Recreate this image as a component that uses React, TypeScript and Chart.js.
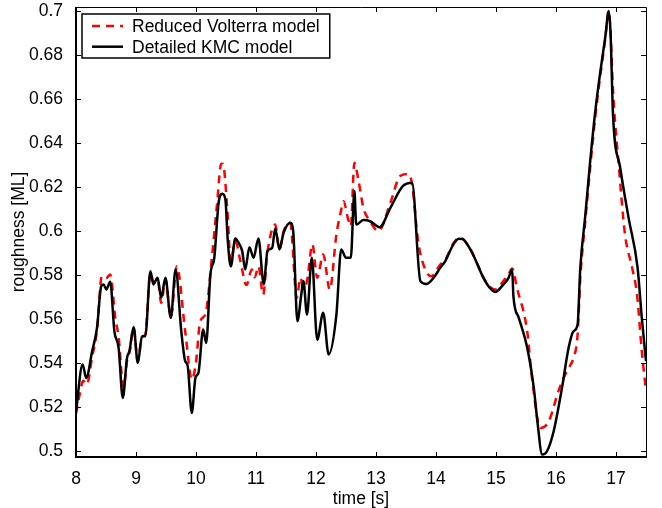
import React, { useEffect, useRef } from 'react';
import { Chart, registerables } from 'chart.js';

Chart.register(...registerables);

// ---- data ----
const timeVolterra = [
  8.0, 8.07, 8.12, 8.18, 8.27, 8.35, 8.43, 8.5, 8.57, 8.655, 8.71, 8.79, 8.85, 8.9, 8.96,
  9.03, 9.1, 9.155, 9.24, 9.29, 9.36, 9.42, 9.49, 9.58, 9.68, 9.82, 9.93, 10.0, 10.07,
  10.155, 10.27, 10.35, 10.42, 10.45, 10.52, 10.58, 10.655, 10.74, 10.84, 10.93, 10.98,
  11.04, 11.12, 11.19, 11.32, 11.39, 11.46, 11.57, 11.68, 11.74, 11.79, 11.85, 11.94,
  12.02, 12.12, 12.23, 12.34, 12.41, 12.46, 12.53, 12.58, 12.64, 12.71, 12.79, 12.9,
  13.04, 13.24, 13.4, 13.52, 13.58, 13.71, 13.82, 13.92, 14.07, 14.155, 14.29, 14.38,
  14.44, 14.52, 14.63, 14.79, 14.905, 14.99, 15.1, 15.21, 15.27, 15.35, 15.52, 15.6,
  15.74, 15.88, 16.04, 16.18, 16.29, 16.36, 16.405, 16.49, 16.57, 16.655, 16.74, 16.82,
  16.88, 16.96, 17.04, 17.15, 17.27, 17.35, 17.43, 17.5,
];
const roughVolterra = [
  0.517, 0.527, 0.532, 0.5303, 0.543, 0.555, 0.5795, 0.5785, 0.5803, 0.5606, 0.552, 0.5288,
  0.541, 0.546, 0.556, 0.541, 0.552, 0.553, 0.581, 0.577, 0.578, 0.5674, 0.578, 0.561, 0.584,
  0.5545, 0.5326, 0.5405, 0.5591, 0.5621, 0.5894, 0.6121, 0.6306, 0.6305, 0.6106, 0.5864,
  0.5955, 0.5864, 0.5755, 0.5826, 0.579, 0.584, 0.5712, 0.5902, 0.603, 0.5917, 0.6, 0.6038,
  0.5697, 0.5788, 0.5742, 0.5773, 0.594, 0.5788, 0.5894, 0.5735, 0.5985, 0.6083, 0.6136,
  0.606, 0.6023, 0.6311, 0.6227, 0.6106, 0.6045, 0.6, 0.6129, 0.625, 0.626, 0.6242, 0.594,
  0.5826, 0.5795, 0.5848, 0.587, 0.5945, 0.5968, 0.5966, 0.5942, 0.5888, 0.579, 0.5745,
  0.5735, 0.5765, 0.5805, 0.583, 0.5742, 0.5545, 0.5333, 0.5106, 0.5136, 0.5273, 0.5364,
  0.5424, 0.553, 0.5788, 0.605, 0.629, 0.652, 0.671, 0.687, 0.7, 0.659, 0.6318, 0.5985,
  0.5833, 0.5712, 0.5455, 0.5273,
];

const timeKMC = [
  8.0, 8.11, 8.17, 8.27, 8.35, 8.42, 8.46, 8.505, 8.57, 8.64, 8.71, 8.78, 8.85, 8.89, 8.96,
  9.03, 9.1, 9.155, 9.24, 9.29, 9.36, 9.42, 9.49, 9.58, 9.66, 9.755, 9.82, 9.86, 9.93, 9.99,
  10.04, 10.12, 10.17, 10.24, 10.305, 10.38, 10.44, 10.49, 10.53, 10.58, 10.655, 10.71,
  10.77, 10.82, 10.89, 10.96, 11.04, 11.13, 11.19, 11.27, 11.32, 11.39, 11.46, 11.57,
  11.62, 11.69, 11.755, 11.79, 11.85, 11.93, 12.02, 12.12, 12.21, 12.34, 12.42, 12.5,
  12.58, 12.64, 12.67, 12.79, 12.9, 13.06, 13.24, 13.45, 13.6, 13.74, 13.84, 13.96, 14.07,
  14.155, 14.29, 14.38, 14.44, 14.52, 14.63, 14.79, 14.905, 14.99, 15.1, 15.21, 15.27,
  15.29, 15.38, 15.52, 15.63, 15.69, 15.77, 15.85, 15.96, 16.1, 16.21, 16.29, 16.36,
  16.405, 16.49, 16.57, 16.655, 16.74, 16.82, 16.88, 16.91, 16.95, 17.07, 17.21, 17.36,
  17.43, 17.5,
];
const roughKMC = [
  0.518, 0.5394, 0.5333, 0.5455, 0.556, 0.575, 0.5758, 0.5735, 0.577, 0.5545, 0.547, 0.5242,
  0.5424, 0.5455, 0.5564, 0.5401, 0.5523, 0.5523, 0.5818, 0.5758, 0.5788, 0.5697, 0.5788,
  0.5606, 0.5826, 0.5545, 0.5409, 0.539, 0.5174, 0.5333, 0.5356, 0.5553, 0.5492, 0.5803,
  0.5879, 0.6136, 0.617, 0.6144, 0.5955, 0.584, 0.5967, 0.5947, 0.5909, 0.5826, 0.5927,
  0.5879, 0.5967, 0.5758, 0.5909, 0.5924, 0.6012, 0.5917, 0.5992, 0.6038, 0.6, 0.5591,
  0.5712, 0.5773, 0.5621, 0.5879, 0.5507, 0.5629, 0.544, 0.5621, 0.5917, 0.5879, 0.5879,
  0.6182, 0.603, 0.605, 0.6045, 0.6018, 0.6106, 0.6205, 0.622, 0.5773, 0.576, 0.5788,
  0.5833, 0.5864, 0.594, 0.5965, 0.5964, 0.594, 0.5886, 0.5788, 0.574, 0.5724, 0.575,
  0.5788, 0.5826, 0.5705, 0.5606, 0.547, 0.5288, 0.5136, 0.4985, 0.5, 0.509, 0.5288, 0.547,
  0.5545, 0.5576, 0.5833, 0.6076, 0.6318, 0.6545, 0.6727, 0.6879, 0.7, 0.6894, 0.653,
  0.6288, 0.606, 0.5833, 0.5606, 0.5409,
];

const seriesLabels = ['Reduced Volterra model', 'Detailed KMC model'];
const xTickValues = [8, 9, 10, 11, 12, 13, 14, 15, 16, 17];
const yTickValues = [0.5, 0.52, 0.54, 0.56, 0.58, 0.6, 0.62, 0.64, 0.66, 0.68, 0.7];
const xTitle = 'time [s]';
const yTitle = 'roughness [ML]';

const FONT_FAMILY = '"Liberation Sans", Arial, Helvetica, sans-serif';
const FONT_SIZE = 17.5;

const framePlugin = {
  id: 'matlabFrame',
  afterDatasetsDraw(chart: any) {
    const { ctx, chartArea: a, scales } = chart;
    ctx.save();
    ctx.strokeStyle = '#000';
    // box
    ctx.lineWidth = 1;
    ctx.beginPath();
    ctx.moveTo(a.left, a.top + 0.5);
    ctx.lineTo(a.right + 0.5, a.top + 0.5);
    ctx.lineTo(a.right + 0.5, a.bottom);
    ctx.stroke();
    ctx.lineWidth = 2;
    ctx.beginPath();
    ctx.moveTo(a.left, a.top);
    ctx.lineTo(a.left, a.bottom);
    ctx.lineTo(a.right + 1, a.bottom);
    ctx.stroke();
    // inward ticks
    const tl = 5;
    ctx.lineWidth = 1;
    ctx.beginPath();
    xTickValues.forEach((v) => {
      const px = Math.round(scales.x.getPixelForValue(v)) + 0.5;
      ctx.moveTo(px, a.bottom);
      ctx.lineTo(px, a.bottom - tl);
      ctx.moveTo(px, a.top);
      ctx.lineTo(px, a.top + tl);
    });
    yTickValues.forEach((v) => {
      const py = Math.round(scales.y.getPixelForValue(v)) + 0.5;
      ctx.moveTo(a.left, py);
      ctx.lineTo(a.left + tl, py);
      ctx.moveTo(a.right, py);
      ctx.lineTo(a.right - tl, py);
    });
    ctx.stroke();

    // legend
    const ds = chart.data.datasets;
    ctx.font = `${FONT_SIZE}px ${FONT_FAMILY}`;
    const maxW = Math.max(...ds.map((d: any) => ctx.measureText(d.label).width));
    const bx = a.left + 6;
    const by = a.top + 7;
    const bw = 50 + maxW + 10;
    const bh = 44;
    ctx.fillStyle = '#fff';
    ctx.fillRect(bx, by, bw, bh);
    ctx.lineWidth = 1.5;
    ctx.strokeStyle = '#000';
    ctx.strokeRect(bx, by, bw, bh);
    ds.forEach((d: any, i: number) => {
      const cy = by + 12 + i * 20.7;
      ctx.save();
      ctx.strokeStyle = d.borderColor;
      ctx.lineWidth = d.borderWidth;
      ctx.setLineDash(d.borderDash || []);
      ctx.beginPath();
      ctx.moveTo(bx + 10, cy);
      ctx.lineTo(bx + 41, cy);
      ctx.stroke();
      ctx.restore();
      ctx.fillStyle = '#000';
      ctx.textBaseline = 'middle';
      ctx.textAlign = 'left';
      ctx.fillText(d.label, bx + 50, cy + 1);
    });
    ctx.restore();
  },
};

export default function App() {
  const canvasRef = useRef<HTMLCanvasElement | null>(null);

  useEffect(() => {
    if (!canvasRef.current) return;
    const font = { family: FONT_FAMILY, size: FONT_SIZE };
    const chart = new Chart(canvasRef.current, {
      type: 'line',
      data: {
        datasets: [
          {
            label: seriesLabels[0],
            data: timeVolterra.map((t, i) => ({ x: t, y: roughVolterra[i] })),
            borderColor: '#ff0000',
            borderWidth: 2.5,
            borderDash: [8, 6],
            pointRadius: 0,
            fill: false,
            cubicInterpolationMode: 'monotone',
            order: 1,
          },
          {
            label: seriesLabels[1],
            data: timeKMC.map((t, i) => ({ x: t, y: roughKMC[i] })),
            borderColor: '#000000',
            borderWidth: 2.5,
            pointRadius: 0,
            fill: false,
            cubicInterpolationMode: 'monotone',
            order: 0,
          },
        ],
      },
      options: {
        animation: false,
        responsive: false,
        events: [],
        layout: { padding: { top: 7, right: 16, bottom: 0, left: 0 } },
        plugins: {
          legend: { display: false },
          tooltip: { enabled: false },
        },
        scales: {
          x: {
            type: 'linear',
            min: 8,
            max: 17.5,
            grid: { display: false },
            border: { display: false },
            afterBuildTicks: (s: any) => {
              s.ticks = xTickValues.map((v) => ({ value: v }));
            },
            afterFit: (s: any) => {
              s.height = 51;
              s.paddingLeft = 0;
              s.paddingRight = 0;
            },
            ticks: {
              font,
              color: '#000',
              padding: 4,
              maxRotation: 0,
              autoSkip: false,
              callback: (v: any) => String(v),
            },
            title: {
              display: true,
              text: xTitle,
              font: { ...font, lineHeight: 1 },
              color: '#000',
              padding: { top: 0, bottom: 0 },
            },
          },
          y: {
            type: 'linear',
            min: 0.4974,
            max: 0.7018,
            grid: { display: false },
            border: { display: false },
            afterBuildTicks: (s: any) => {
              s.ticks = yTickValues.map((v) => ({ value: v }));
            },
            afterFit: (s: any) => {
              s.width = 76;
              s.paddingTop = 0;
              s.paddingBottom = 0;
            },
            ticks: {
              font,
              color: '#000',
              padding: 5,
              autoSkip: false,
              callback: (v: any) => String(Number(v)),
            },
            title: {
              display: true,
              text: yTitle,
              font: { ...font, lineHeight: 1.2 },
              color: '#000',
              padding: { top: 9, bottom: 0 },
            },
          },
        },
      },
      plugins: [framePlugin],
    } as any);
    return () => chart.destroy();
  }, []);

  return (
    <div style={{ position: 'absolute', left: 0, top: 0, width: 662, height: 508, background: '#fff' }}>
      <canvas ref={canvasRef} width={662} height={508} style={{ display: 'block' }} />
    </div>
  );
}
